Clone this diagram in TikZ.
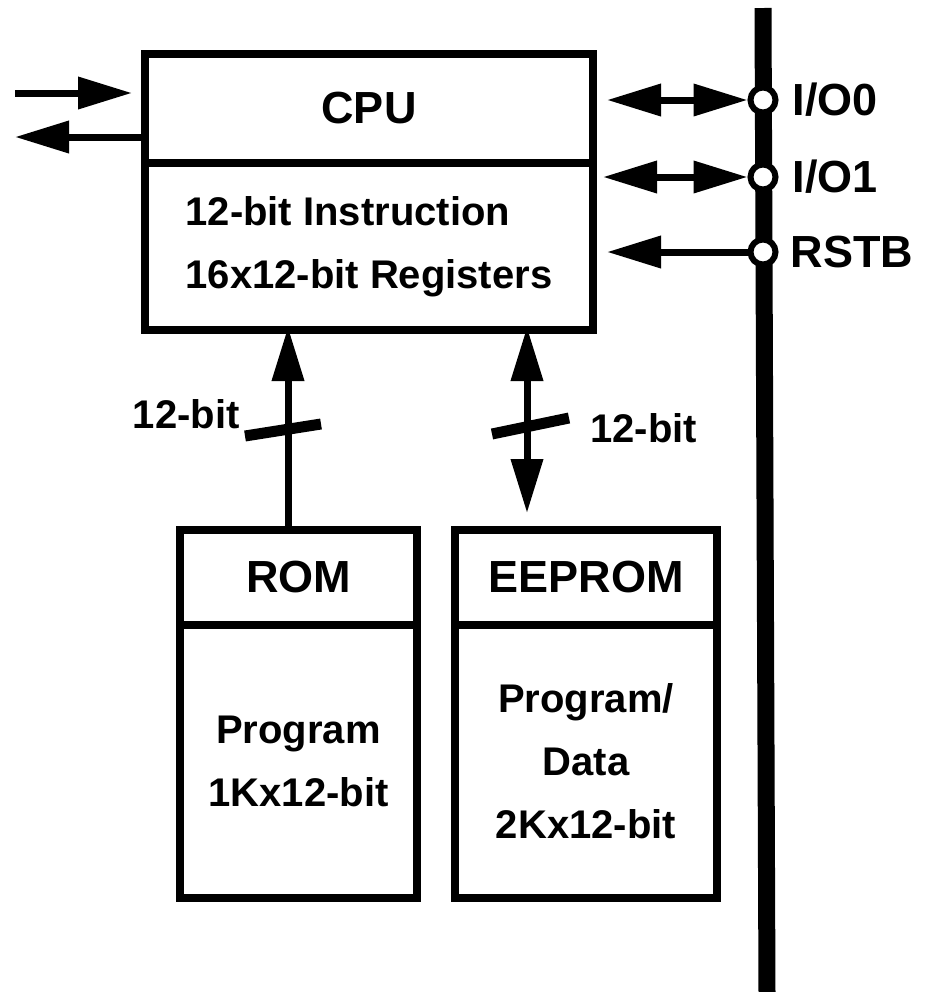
\documentclass[tikz,border=0pt]{standalone}
\usepackage{fontspec}
\setmainfont{Liberation Sans}
\usetikzlibrary{arrows.meta,positioning}
\tikzset{
  bloc/.style={draw, line width=3.8pt, inner sep=0pt, outer sep=0pt},
  fleche/.style={line width=3.5pt, ->},
  dfleche/.style={line width=3.5pt, <->},
  broche/.style={circle, draw, fill=white, line width=3pt, minimum size=12.5pt, inner sep=0pt},
  barre/.style={line width=5.5pt},
  titre/.style={font=\fontsize{22.5}{27}\selectfont\bfseries},
  texte/.style={font=\fontsize{20}{31.5}\selectfont\bfseries, align=center}
}
\begin{document}
\begin{tikzpicture}[line join=miter,>={Triangle[length=27pt,width=15.5pt]},x=0.5pt,y=-0.5pt]
		\useasboundingbox (0,0) rectangle (926,992);
		% CPU
		\node[bloc, titre, minimum width=224pt, minimum height=54.5pt] (cpu) at (369,108.5) {CPU};
		\node[bloc, texte, align=left, minimum width=224pt, minimum height=83.5pt, anchor=north] (reg) at (cpu.south) {12-bit Instruction\\16x12-bit Registers};
		% memoires
		\node[bloc, titre, minimum width=118.5pt, minimum height=47.5pt] (rom) at (298.5,577.5) {ROM};
		\node[bloc, texte, minimum width=118.5pt, minimum height=136.5pt, anchor=north] (romc) at (rom.south) {Program\\1Kx12-bit};
		\node[bloc, titre, minimum width=131pt, minimum height=47.5pt] (eep) at (586,577.5) {EEPROM};
		\node[bloc, texte, minimum width=131pt, minimum height=136.5pt, anchor=north] (eepc) at (eep.south) {Program/\\Data\\2Kx12-bit};
		% bus 12 bits
		\coordinate (rbus) at (288,0);
		\coordinate (ebus) at (527,0);
		\draw[fleche, shorten >=-1.5pt] (rom.north -| rbus) -- (reg.south -| rbus);
		\draw[dfleche, shorten <=-1.5pt, shorten >=8.5pt] (reg.south -| ebus) -- (eep.north -| ebus);
		\draw[barre] (245,436) -- (321,424);
		\draw[barre] (492,434) -- (569,418);
		\node[texte, inner sep=0pt, anchor=east] (lrom) at (240,414) {12-bit};
		\node[texte, inner sep=0pt, anchor=west] (leep) at (590,428) {12-bit};
		% entrees a gauche
		\coordinate (ein) at (15,93);
		\coordinate (eout) at (15,137);
		\draw[fleche, shorten >=6.5pt] (ein) -- (cpu.west |- ein);
		\draw[fleche] (cpu.west |- eout) -- (eout);
		% bus vertical et broches
		\coordinate (bhaut) at (763,8);
		\coordinate (bbas) at (767,992);
		\draw[line width=8.5pt] (bhaut) -- (bbas);
		\node[broche] (io0) at (763,100) {};
		\node[broche] (io1) at (763,177) {};
		\node[broche] (rst) at (763,252) {};
		\node[titre, inner sep=0pt, right=7pt of io0] (lio0) {I/O0};
		\node[titre, inner sep=0pt, right=7pt of io1] (lio1) {I/O1};
		\node[titre, inner sep=0pt, right=6pt of rst] (lrst) {RSTB};
		\draw[dfleche, shorten <=7pt] (cpu.east |- io0) -- (io0.west);
		\draw[dfleche, shorten <=5pt] (reg.east |- io1) -- (io1.west);
		\draw[fleche, shorten >=7pt] (rst.west) -- (reg.east |- rst);
		\end{tikzpicture}
\end{document}
